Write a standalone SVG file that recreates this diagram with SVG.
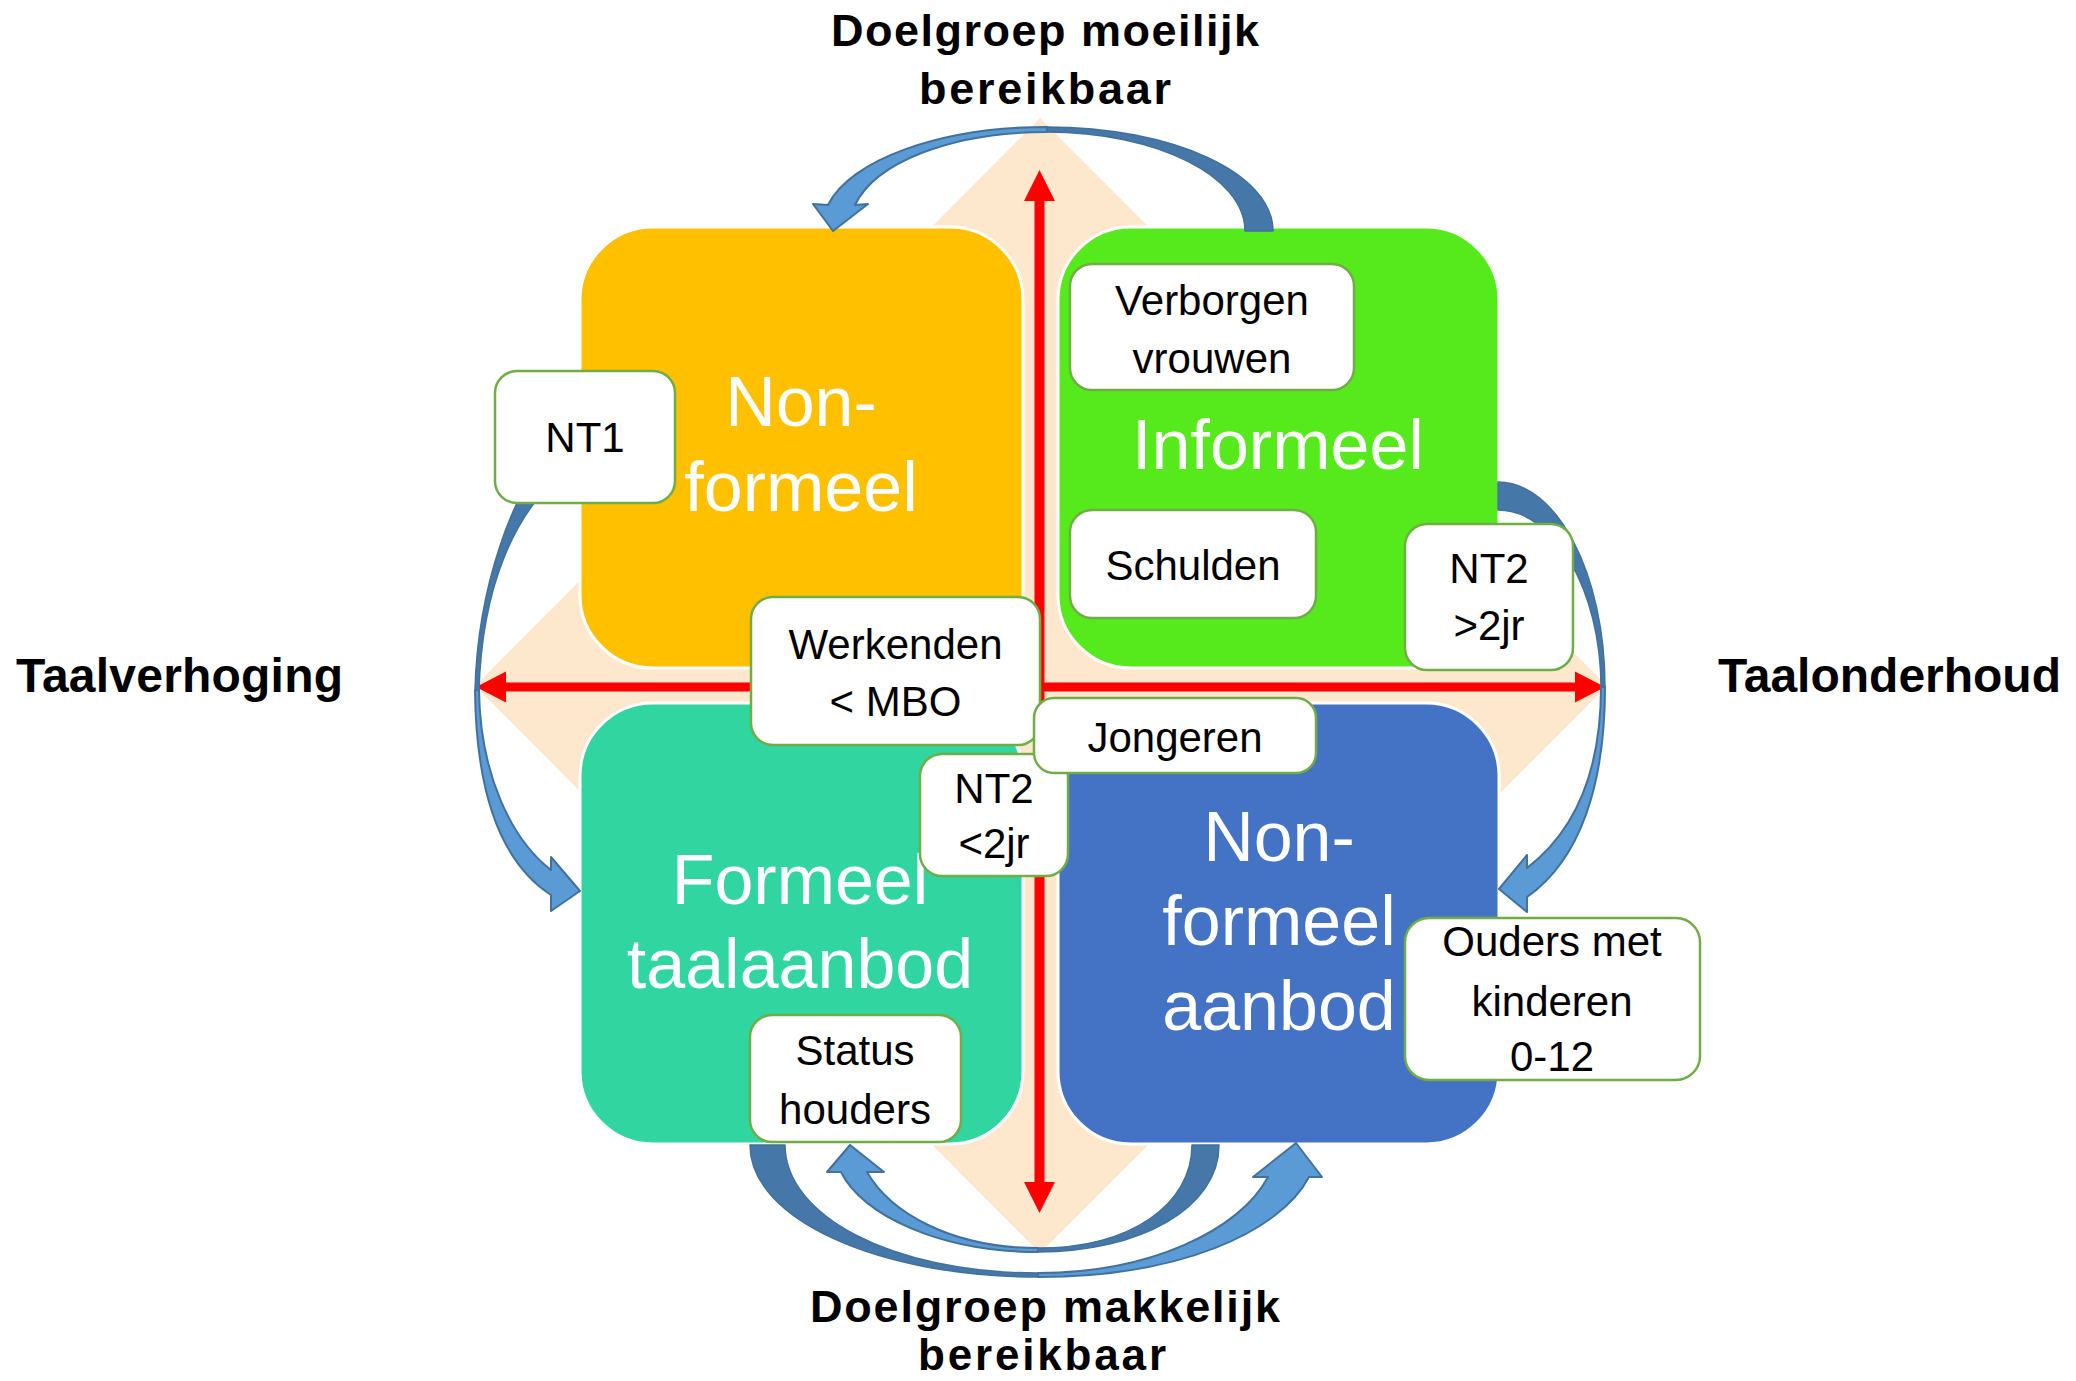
<svg xmlns="http://www.w3.org/2000/svg" width="2076" height="1381" viewBox="0 0 2076 1381">
<style>
.quad{stroke:#FFFFFF;stroke-width:3}
.big{font-family:"Liberation Sans",Arial,sans-serif;font-size:70px;fill:#FFFFFF;text-anchor:middle}
.lbl rect{fill:#FFFFFF;stroke:#70AD47;stroke-width:2.5}
.lbl text{font-family:"Liberation Sans",Arial,sans-serif;font-size:42px;fill:#000000;text-anchor:middle}
.title{font-family:"Liberation Sans",Arial,sans-serif;font-weight:bold;fill:#000000}
.red{fill:#FF0000}
.dark{fill:#4677A9;stroke:#41719C;stroke-width:1.5;stroke-linejoin:round}
.light{fill:#5B9BD5;stroke:#41719C;stroke-width:2;stroke-linejoin:round}
</style>
<rect width="2076" height="1381" fill="#FFFFFF"/>
<path id="diamond" d="M1040,118 L1607,686 L1040,1253 L475,686 Z" fill="#FEE8CD"/>
<g id="connectors-red">
<path class="red" d="M476,687 L506,671.5 L506,682.5 L1575,682.5 L1575,671.5 L1605,687 L1575,702.5 L1575,691.5 L506,691.5 L506,702.5 Z"/>
<path class="red" d="M1039.5,170 L1055,201 L1044.5,201 L1044.5,1182 L1055,1182 L1039.5,1213 L1024,1182 L1034.5,1182 L1034.5,201 L1024,201 Z"/>
</g>
<g id="node-nonformeel">
<rect class="quad" x="580" y="227" width="443" height="441" rx="73" ry="73" fill="#FFC000"/>
<text class="big" x="801" y="426">Non-</text>
<text class="big" x="801" y="511">formeel</text>
</g>
<g id="node-informeel">
<rect class="quad" x="1058" y="227" width="441" height="441" rx="73" ry="73" fill="#56E91C"/>
<text class="big" x="1278" y="469">Informeel</text>
</g>
<g id="node-formeel">
<rect class="quad" x="580" y="703" width="443" height="441" rx="73" ry="73" fill="#30D5A0"/>
<text class="big" x="800" y="904">Formeel</text>
<text class="big" x="800" y="988">taalaanbod</text>
</g>
<g id="node-nonformeel-aanbod">
<rect class="quad" x="1058" y="703" width="441" height="441" rx="73" ry="73" fill="#4472C4"/>
<text class="big" x="1279" y="861">Non-</text>
<text class="big" x="1279" y="945">formeel</text>
<text class="big" x="1279" y="1030">aanbod</text>
</g>
<g id="connectors-curved">
<path class="dark" d="M1273,231 C1273,173 1172,127 1047,127 L1047,132 C1156,132 1245,176 1245,231 Z"/>
<path class="light" d="M1047,127 C940,127 850,160 828,205 L813,204 L833,231 L868,204 L855,205 C875,163 950,132 1047,132 Z"/>
<path class="dark" d="M1498,482 C1557,482 1605,574 1605,687 L1601,687 C1601,592 1555,510 1498,510 Z"/>
<path class="light" d="M1605,687 C1605,785 1580,860 1527,897 L1527,912 L1499,889 L1527,855 L1527,868 C1570,835 1601,780 1601,687 Z"/>
<path class="dark" d="M545,455 C515,495 478,580 475,690 L479,690 C482,590 512,515 565,470 Z"/>
<path class="light" d="M475,690 C476,790 500,862 551,895 L551,911 L580,891 L551,857 L551,870 C512,840 480,775 479,690 Z"/>
<path class="dark" d="M750,1145 C750,1220 880,1277 1038,1277 L1038,1273 C890,1273 785,1215 785,1145 Z"/>
<path class="light" d="M1038,1277 C1180,1277 1280,1232 1309,1177 L1322,1177 L1296,1143 L1253,1177 L1268,1177 C1240,1230 1150,1273 1038,1273 Z"/>
<path class="dark" d="M1219,1145 C1219,1208 1140,1252 1038,1252 L1038,1248 C1130,1248 1192,1205 1192,1145 Z"/>
<path class="light" d="M1038,1252 C940,1252 862,1215 841,1172 L827,1172 L850,1145 L884,1172 L867,1172 C890,1212 950,1248 1038,1248 Z"/>
</g>
<g id="label-nt1" class="lbl">
<rect x="495" y="371" width="180" height="132" rx="22"/>
<text x="585" y="452">NT1</text>
</g>
<g id="label-verborgen" class="lbl">
<rect x="1070" y="264" width="284" height="126" rx="22"/>
<text x="1212" y="315">Verborgen</text>
<text x="1212" y="373">vrouwen</text>
</g>
<g id="label-schulden" class="lbl">
<rect x="1070" y="510" width="246" height="108" rx="22"/>
<text x="1193" y="580">Schulden</text>
</g>
<g id="label-nt2-gt" class="lbl">
<rect x="1405" y="524" width="168" height="146" rx="22"/>
<text x="1489" y="583">NT2</text>
<text x="1489" y="640">&gt;2jr</text>
</g>
<g id="label-werkenden" class="lbl">
<rect x="751" y="597" width="289" height="148" rx="22"/>
<text x="895.5" y="659">Werkenden</text>
<text x="895.5" y="716">&lt; MBO</text>
</g>
<g id="label-nt2-lt" class="lbl">
<rect x="920" y="754" width="148" height="122" rx="22"/>
<text x="994" y="803">NT2</text>
<text x="994" y="858">&lt;2jr</text>
</g>
<g id="label-jongeren" class="lbl">
<rect x="1034" y="698" width="282" height="75" rx="20"/>
<text x="1175" y="752">Jongeren</text>
</g>
<g id="label-status" class="lbl">
<rect x="750" y="1015" width="211" height="127" rx="22"/>
<text x="855" y="1065">Status</text>
<text x="855" y="1124">houders</text>
</g>
<g id="label-ouders" class="lbl">
<rect x="1405" y="918" width="295" height="162" rx="24"/>
<text x="1552" y="956">Ouders met</text>
<text x="1552" y="1016">kinderen</text>
<text x="1552" y="1071">0-12</text>
</g>
<g id="titles">
<text class="title" font-size="45" x="1045" y="46" text-anchor="middle" textLength="428">Doelgroep moeilijk</text>
<text class="title" font-size="45" x="1045" y="104" text-anchor="middle" textLength="252">bereikbaar</text>
<text class="title" font-size="48" x="16" y="692" textLength="327">Taalverhoging</text>
<text class="title" font-size="48" x="1718" y="692" textLength="343">Taalonderhoud</text>
<text class="title" font-size="45" x="1045" y="1322" text-anchor="middle" textLength="470">Doelgroep makkelijk</text>
<text class="title" font-size="44" x="1042" y="1370" text-anchor="middle" textLength="248">bereikbaar</text>
</g>
</svg>
